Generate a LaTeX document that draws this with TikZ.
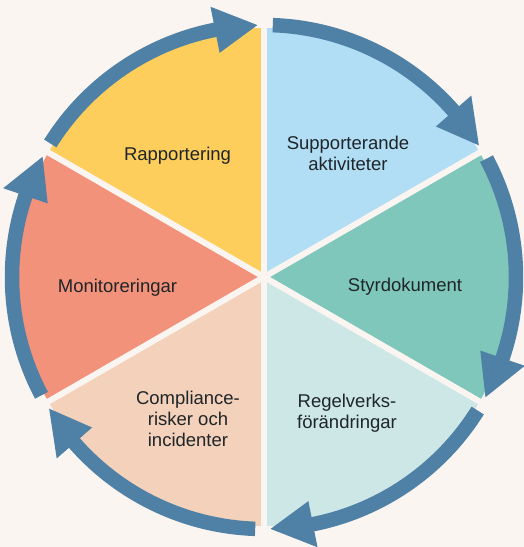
\documentclass[tikz,border=0pt]{standalone}
\usepackage{fontspec}
\setmainfont{Liberation Sans}
\definecolor{bgcol}{HTML}{FAF5F1}
\definecolor{cyellow}{HTML}{FDCE5B}
\definecolor{cblue}{HTML}{B1DEF5}
\definecolor{cteal}{HTML}{7FC7BA}
\definecolor{cltteal}{HTML}{CCE7E6}
\definecolor{cpeach}{HTML}{F3D1BA}
\definecolor{csalmon}{HTML}{F2927B}
\definecolor{arrowblue}{HTML}{4F80A5}
\definecolor{txtcol}{HTML}{1F2528}
\tikzset{
  wedge/.style={draw=none},
  gapline/.style={draw=bgcol, line width=6pt},
  ringarrow/.style={draw=arrowblue, line width=14.5pt, line cap=butt},
  headtri/.style={fill=arrowblue, draw=none},
  lbl/.style={font=\fontsize{18.5}{21}\selectfont, text=txtcol, align=center, inner sep=0pt, anchor=base}
}
\begin{document}
\begin{tikzpicture}
\useasboundingbox (-264pt,-270pt) rectangle (260pt,277pt);
\fill[bgcol] (-264pt,-270pt) rectangle (260pt,277pt);
% sectors
\foreach \a/\c in {90/cyellow, 30/cblue, -30/cteal, -90/cltteal, 210/cpeach, 150/csalmon}
  \fill[wedge, \c] (0pt,0pt) -- (\a:249pt) arc[start angle=\a, delta angle=60, radius=249pt] -- cycle;
% separating gaps
\foreach \a in {30,90,150,210,270,330}
  \draw[gapline] (0pt,0pt) -- (\a:262pt);
% cycle arrows
\foreach \b in {150,90,30,-30,-90,-150} {
  \pgfmathsetmacro{\s}{\b-2}
  \pgfmathsetmacro{\t}{\b-60+1.5}
  \pgfmathsetmacro{\bs}{\t+9.7}
  \pgfmathsetmacro{\e}{\bs-0.4}
  \draw[ringarrow] (\s:252pt) arc[start angle=\s, end angle=\e, radius=252pt];
  \fill[headtri] (\bs:275.5pt) -- (\t:252pt) -- (\bs:228.5pt) -- cycle;
}
% labels (anchor base = baseline of the last line)
\node[lbl] (rap) at (-86.5pt,117pt) {Rapportering};
\node[lbl] (sup) at (84pt,106.3pt) {Supporterande\\aktiviteter};
\node[lbl] (sty) at (141pt,-14.7pt) {Styrdokument};
\node[lbl] (mon) at (-146.5pt,-15pt) {Monitoreringar};
\node[lbl] (reg) at (83pt,-151.3pt) {Regelverks-\\förändringar};
\node[lbl] (com) at (-76pt,-169pt) {Compliance-\\risker och\\incidenter};
\end{tikzpicture}
\end{document}
